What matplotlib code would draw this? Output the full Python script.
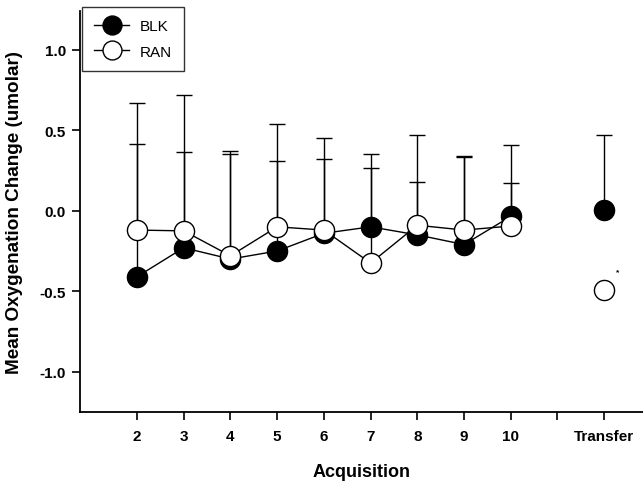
import matplotlib.pyplot as plt
import numpy as np

# session positions on the x axis (11 is an empty slot before Transfer)
sessions = [2, 3, 4, 5, 6, 7, 8, 9, 10, 12]
tick_pos = [2, 3, 4, 5, 6, 7, 8, 9, 10, 11, 12]
tick_labels = ['2', '3', '4', '5', '6', '7', '8', '9', '10', '', 'Transfer']

# mean oxygenation change (umolar)
blk_mean = [-0.41, -0.23, -0.30, -0.25, -0.14, -0.10, -0.15, -0.21, -0.035, 0.005]
ran_mean = [-0.12, -0.125, -0.28, -0.10, -0.12, -0.325, -0.09, -0.12, -0.095, -0.49]
# upper error (one-sided)
blk_err = [1.08, 0.95, 0.67, 0.79, 0.59, 0.45, 0.62, 0.55, 0.445, 0.465]
ran_err = [0.535, 0.49, 0.635, 0.41, 0.44, 0.59, 0.27, 0.455, 0.265, 0.0]

plt.rcParams['font.family'] = ['Liberation Sans', 'DejaVu Sans']
plt.rcParams['font.weight'] = 'bold'

fig = plt.figure(figsize=(6.43, 4.85), dpi=100)
ax = fig.add_axes([0.1244, 0.1485, 0.8756, 0.8265])

x = np.array(sessions)
blk = np.array(blk_mean)
ran = np.array(ran_mean)

# error bars behind the markers
for mean, err in [(blk, blk_err), (ran, ran_err)]:
    ax.errorbar(x, mean, yerr=[np.zeros(len(err)), err], fmt='none', ecolor='black',
                elinewidth=1.0, capsize=6, capthick=1.0, zorder=1)

mk = dict(markersize=14.5, markeredgecolor='black', markeredgewidth=1.0, color='black', linewidth=1.0)
ax.plot(x[:-1], blk[:-1], 'o-', markerfacecolor='black', zorder=3, label='BLK', **mk)
ax.plot(x[-1:], blk[-1:], 'o', markerfacecolor='black', zorder=3, **mk)
ax.plot(x[:-1], ran[:-1], 'o-', markerfacecolor='white', zorder=4, label='RAN', **mk)
ax.plot(x[-1:], ran[-1:], 'o', markerfacecolor='white', zorder=4, **mk)

ax.text(12.28, -0.38, '*', fontsize=6, ha='center', va='center')

ax.set_xlim(0.78, 12.83)
ax.set_ylim(-1.25, 1.24)
ax.set_xticks(tick_pos)
ax.set_xticklabels(tick_labels)
ax.set_yticks([-1.0, -0.5, 0.0, 0.5, 1.0])
ax.set_yticklabels(['-1.0', '-0.5', '0.0', '0.5', '1.0'])

for s in ['top', 'right']:
    ax.spines[s].set_visible(False)
for s in ['left', 'bottom']:
    ax.spines[s].set_linewidth(1.3)

ax.tick_params(axis='x', direction='out', length=6, width=1.2, pad=6, labelsize=11)
ax.tick_params(axis='y', direction='out', length=6, width=1.2, pad=4, labelsize=11)

ax.set_xlabel('Acquisition', fontsize=13, fontweight='bold', labelpad=14.5)
ax.set_ylabel('Mean Oxygenation Change (umolar)', fontsize=13.6, fontweight='bold', labelpad=12)

leg = ax.legend(loc='upper left', bbox_to_anchor=(82 / 643, 1 - 8 / 485),
                bbox_transform=fig.transFigure, fontsize=11, frameon=True, fancybox=False,
                handlelength=2.3, borderpad=0.8, labelspacing=0.75, handletextpad=0.65,
                borderaxespad=0, markerscale=0.94)
leg.get_frame().set_edgecolor('black')
leg.get_frame().set_linewidth(1.0)
for t in leg.get_texts():
    t.set_fontweight('normal')

plt.savefig('out.png', dpi=100)
plt.close('all')
